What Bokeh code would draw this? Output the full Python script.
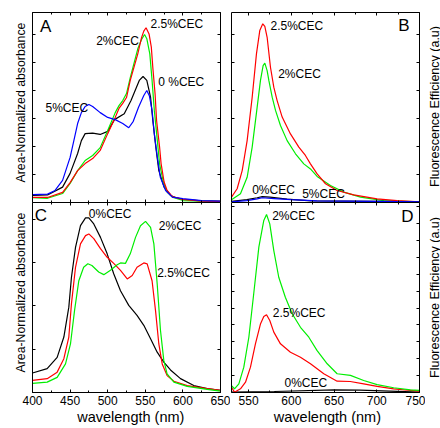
from bokeh.plotting import figure
from bokeh.models import Range1d, LinearAxis, SingleIntervalTicker, Label, Title
from bokeh.layouts import column, row
from bokeh.embed import file_html
from bokeh.resources import INLINE
import math

FONT = "Liberation Sans"

# ---------------- Panel A : absorbance (area-normalized) ----------------
a_black_nm = [400, 420, 440, 450, 460, 465, 470, 480, 490, 500, 509, 522, 531, 538, 542, 547, 552, 557, 560, 564, 568, 575, 584, 590, 600, 625, 650]
a_black_v = [0.025, 0.027, 0.055, 0.104, 0.175, 0.221, 0.246, 0.248, 0.243, 0.254, 0.296, 0.317, 0.364, 0.410, 0.436, 0.450, 0.436, 0.376, 0.293, 0.198, 0.114, 0.055, 0.025, 0.018, 0.011, 0.006, 0.004]
a_blue_nm = [400, 420, 430, 440, 450, 455, 460, 465, 470, 475, 480, 490, 500, 510, 520, 528, 534, 541, 548, 552, 555.5, 559, 562, 566, 570, 577, 586, 600, 625, 650]
a_blue_v = [0.028, 0.030, 0.043, 0.079, 0.161, 0.221, 0.282, 0.321, 0.343, 0.350, 0.343, 0.321, 0.304, 0.296, 0.282, 0.267, 0.290, 0.340, 0.382, 0.400, 0.380, 0.329, 0.245, 0.162, 0.090, 0.043, 0.019, 0.014, 0.007, 0.005]
a_red_nm = [400, 420, 440, 450, 460, 470, 480, 490, 500, 510, 515, 520, 525, 530, 540, 545, 548, 551, 555, 558, 560, 563, 565, 569, 571, 575, 579, 586, 600, 625, 650]
a_red_v = [0.018, 0.018, 0.036, 0.071, 0.114, 0.139, 0.157, 0.186, 0.246, 0.304, 0.336, 0.354, 0.375, 0.436, 0.531, 0.589, 0.612, 0.624, 0.602, 0.555, 0.482, 0.388, 0.293, 0.198, 0.139, 0.073, 0.043, 0.021, 0.011, 0.005, 0.004]
a_green_nm = [400, 420, 440, 450, 460, 470, 480, 490, 500, 510, 515, 520, 525, 530, 540, 545, 549, 552, 556, 559, 562, 566, 569, 574, 579, 586, 600, 625, 650]
a_green_v = [0.017, 0.015, 0.032, 0.068, 0.114, 0.150, 0.168, 0.196, 0.257, 0.321, 0.346, 0.364, 0.389, 0.446, 0.549, 0.582, 0.600, 0.585, 0.531, 0.436, 0.329, 0.221, 0.138, 0.073, 0.037, 0.019, 0.007, 0.005, 0.004]

# ---------------- Panel B : fluorescence ----------------
b_red_nm = [530, 536.6, 542.5, 548.3, 554.2, 559.2, 563.1, 566.6, 569, 571.7, 575.6, 579.5, 583.4, 589.3, 599, 608.8, 616.5, 622.4, 630.2, 640, 653.6, 673, 700.4, 723.8, 750]
b_red_v = [0.019, 0.049, 0.114, 0.221, 0.376, 0.531, 0.614, 0.638, 0.629, 0.590, 0.483, 0.412, 0.364, 0.305, 0.245, 0.198, 0.168, 0.138, 0.102, 0.067, 0.043, 0.027, 0.013, 0.007, 0.002]
b_green_nm = [530, 540.5, 548.3, 554.2, 560, 563.9, 567, 569, 571.7, 573.7, 577.6, 581.5, 587.3, 595.1, 604.9, 614.6, 622.4, 630.2, 645.8, 661.4, 681, 708.2, 750]
b_green_v = [0.010, 0.031, 0.090, 0.198, 0.340, 0.436, 0.489, 0.498, 0.471, 0.436, 0.376, 0.329, 0.275, 0.221, 0.174, 0.138, 0.120, 0.093, 0.061, 0.037, 0.019, 0.007, 0.002]
b_black_nm = [530, 548, 560, 566, 575, 595, 623, 700, 750]
b_black_v = [0.004, 0.010, 0.017, 0.021, 0.019, 0.012, 0.006, 0.004, 0.002]
b_blue_nm = [530, 548, 560, 566, 580, 600, 630, 700, 750]
b_blue_v = [0.002, 0.007, 0.013, 0.017, 0.014, 0.010, 0.006, 0.004, 0.002]

# ---------------- Panel C : absorbance ----------------
c_black_nm = [400, 419.5, 432.8, 441.7, 448.3, 451.8, 457.2, 463.8, 470.5, 474.9, 481.5, 490.4, 499.3, 508, 517, 528, 539, 548, 557, 565.8, 574.6, 583.5, 596.8, 614.5, 632.3, 650]
c_black_v = [0.045, 0.055, 0.081, 0.128, 0.197, 0.266, 0.335, 0.385, 0.403, 0.403, 0.389, 0.358, 0.320, 0.274, 0.235, 0.201, 0.178, 0.155, 0.124, 0.093, 0.070, 0.052, 0.032, 0.016, 0.009, 0.005]
c_red_nm = [400, 419.5, 432.8, 441.7, 448.3, 451.8, 457.2, 463.8, 470.5, 474.9, 481.5, 490.4, 499.3, 508, 517, 526, 532.6, 539, 548, 552.5, 559, 563.6, 568, 572.5, 579, 588, 605.7, 632.3, 650]
c_red_v = [0.028, 0.032, 0.047, 0.078, 0.128, 0.205, 0.289, 0.343, 0.362, 0.366, 0.355, 0.332, 0.312, 0.298, 0.282, 0.262, 0.270, 0.289, 0.299, 0.297, 0.258, 0.189, 0.112, 0.066, 0.039, 0.026, 0.016, 0.009, 0.005]
c_green_nm = [400, 419.5, 432.8, 443.9, 450.5, 455.9, 461.6, 468, 473.6, 479, 488, 494.8, 503.7, 512.6, 517, 523.6, 530, 537, 543.6, 550.3, 557, 561.4, 565.8, 570.2, 574.6, 579, 588, 605.7, 632.3, 650]
c_green_v = [0.021, 0.024, 0.035, 0.066, 0.112, 0.189, 0.258, 0.289, 0.297, 0.293, 0.278, 0.272, 0.282, 0.295, 0.299, 0.298, 0.320, 0.358, 0.385, 0.395, 0.381, 0.343, 0.251, 0.143, 0.074, 0.043, 0.024, 0.014, 0.007, 0.003]

# ---------------- Panel D : fluorescence ----------------
d_green_nm = [530, 533.5, 538.6, 544.4, 550.3, 556, 562, 567.8, 571, 574.8, 579.5, 585.3, 593, 601, 610.7, 620.5, 630, 642, 653.6, 669.2, 684.7, 700.4, 719.8, 739.4, 750]
d_green_v = [0.041, 0.022, 0.051, 0.150, 0.327, 0.584, 0.860, 1.018, 1.053, 0.998, 0.840, 0.682, 0.564, 0.466, 0.386, 0.327, 0.249, 0.170, 0.111, 0.101, 0.071, 0.047, 0.028, 0.016, 0.012]
d_red_nm = [530, 533.5, 540.5, 546.4, 552.2, 558, 564, 567.8, 571, 574.8, 579.5, 587.3, 599, 610.7, 622.4, 638, 653.6, 669, 684.7, 700.4, 719.8, 739.4, 750]
d_red_v = [0.031, 0.002, 0.022, 0.061, 0.150, 0.288, 0.407, 0.450, 0.460, 0.426, 0.357, 0.288, 0.238, 0.209, 0.170, 0.111, 0.067, 0.065, 0.051, 0.036, 0.022, 0.012, 0.008]
d_black_nm = [530, 580, 650, 680, 750]
d_black_v = [0.002, 0.006, 0.015, 0.014, 0.002]

x_abs_range = (400, 650)
x_fl_range = (530, 750)

BLACK, RED, GREEN, BLUE = "#000000", "#ff0000", "#00ee00", "#0000ff"
LW = 1.2

Y_ABS = "Area-Normalized absorbance"
Y_FL = "Fluorescence Efficiency (a.u)"
X_LAB = "wavelength (nm)"


def style_axis(ax, ticker, labels):
    ax.ticker = ticker
    ax.major_tick_in = 3
    ax.major_tick_out = 0
    ax.minor_tick_in = 2
    ax.minor_tick_out = 0
    ax.axis_line_color = "black"
    ax.axis_line_width = 1
    ax.major_tick_line_color = "black"
    ax.minor_tick_line_color = "black"
    if labels:
        ax.major_label_text_font = FONT
        ax.major_label_text_font_size = "12px"
        ax.major_label_text_color = "black"
        ax.major_label_standoff = 3
    else:
        ax.major_label_text_color = None
        ax.major_label_text_font_size = "0px"
        ax.major_label_standoff = 0


def make_panel(width, height, xr, yr, borders, ytick, xlabels):
    p = figure(width=width, height=height,
               x_range=Range1d(*xr), y_range=Range1d(*yr),
               output_backend="svg", toolbar_location=None, tools="",
               x_axis_location=None, y_axis_location=None,
               min_border_left=borders[0], min_border_right=borders[1],
               min_border_top=borders[2], min_border_bottom=borders[3])
    p.outline_line_color = None
    p.background_fill_color = "white"
    p.border_fill_color = "white"
    for g in p.grid:
        g.visible = False
    xt = SingleIntervalTicker(interval=50, num_minor_ticks=2)
    yt = SingleIntervalTicker(interval=ytick, num_minor_ticks=0)
    bx = LinearAxis()
    style_axis(bx, xt, xlabels)
    tx = LinearAxis()
    style_axis(tx, xt, False)
    ly = LinearAxis()
    style_axis(ly, yt, False)
    ry = LinearAxis()
    style_axis(ry, yt, False)
    p.add_layout(bx, "below")
    p.add_layout(tx, "above")
    p.add_layout(ly, "left")
    p.add_layout(ry, "right")
    return p


def text(p, x, y, s, size="12px", angle=0.0, align="left"):
    p.add_layout(Label(x=x, y=y, text=s, text_font=FONT, text_font_size=size,
                       text_color="black", text_baseline="middle",
                       text_align=align, angle=angle))


def left_title(p, s, offset):
    p.add_layout(Title(text=s, align="left", offset=offset, standoff=7,
                       vertical_align="middle", text_font=FONT,
                       text_font_size="12.3px", text_font_style="normal",
                       text_color="black"), "left")


def bottom_title(p, s, offset):
    p.add_layout(Title(text=s, align="left", offset=offset, standoff=0,
                       vertical_align="middle", text_font=FONT,
                       text_font_size="14.5px", text_font_style="normal",
                       text_color="black"), "below")


# geometry: frames A/C x 32..220, B/D x 231..419; rows y 12..202 and 202..392
pA = make_panel(230, 202, x_abs_range, (0, 0.6786), (32, 10, 12, 0), 0.1, False)
pB = make_panel(195, 202, x_fl_range, (0, 0.6786), (1, 6, 12, 0), 0.1, False)
pC = make_panel(230, 226, x_abs_range, (0, 0.4385), (32, 10, 0, 36), 0.1, True)
pD = make_panel(195, 226, x_fl_range, (0, 1.1243), (1, 6, 0, 36), 0.1, True)

# narrow strip at the right carrying the fluorescence axis titles
pR = figure(width=15, height=428, x_range=Range1d(0, 1), y_range=Range1d(0, 428),
            output_backend="svg", toolbar_location=None, tools="",
            x_axis_location=None, y_axis_location=None,
            min_border_left=0, min_border_right=0, min_border_top=0, min_border_bottom=0)
pR.outline_line_color = None
pR.border_fill_color = "white"
for g in pR.grid:
    g.visible = False

# Panel A
pA.line(a_black_nm, a_black_v, line_color=BLACK, line_width=LW)
pA.line(a_green_nm, a_green_v, line_color=GREEN, line_width=LW)
pA.line(a_red_nm, a_red_v, line_color=RED, line_width=LW)
pA.line(a_blue_nm, a_blue_v, line_color=BLUE, line_width=LW)
text(pA, 556.9, 0.636, "2.5%CEC")
text(pA, 484.7, 0.576, "2%CEC")
text(pA, 567.2, 0.430, "0 %CEC")
text(pA, 417.3, 0.336, "5%CEC")
text(pA, 410.0, 0.629, "A", size="17px")
left_title(pA, Y_ABS, 20)

# Panel B
pB.line(b_green_nm, b_green_v, line_color=GREEN, line_width=LW)
pB.line(b_red_nm, b_red_v, line_color=RED, line_width=LW)
pB.line(b_black_nm, b_black_v, line_color=BLACK, line_width=LW)
pB.line(b_blue_nm, b_blue_v, line_color=BLUE, line_width=LW)
text(pB, 575.6, 0.630, "2.5%CEC")
text(pB, 584.6, 0.460, "2%CEC")
text(pB, 554.2, 0.043, "0%CEC")
text(pB, 612.7, 0.029, "5%CEC")
text(pB, 725.0, 0.632, "B", size="17px")

# Panel C
pC.line(c_black_nm, c_black_v, line_color=BLACK, line_width=LW)
pC.line(c_red_nm, c_red_v, line_color=RED, line_width=LW)
pC.line(c_green_nm, c_green_v, line_color=GREEN, line_width=LW)
text(pC, 474.9, 0.413, "0%CEC")
text(pC, 568.0, 0.385, "2%CEC")
text(pC, 565.8, 0.275, "2.5%CEC")
text(pC, 403.0, 0.408, "C", size="17px")
left_title(pC, Y_ABS, 20)
bottom_title(pC, X_LAB, 44.7)

# Panel D
pD.line(d_black_nm, d_black_v, line_color=BLACK, line_width=LW)
pD.line(d_red_nm, d_red_v, line_color=RED, line_width=LW)
pD.line(d_green_nm, d_green_v, line_color=GREEN, line_width=LW)
text(pD, 577.6, 1.043, "2%CEC")
text(pD, 578.3, 0.472, "2.5%CEC")
text(pD, 592.0, 0.055, "0%CEC")
text(pD, 728.5, 1.043, "D", size="17px")
bottom_title(pD, X_LAB, 42.3)

# right-hand axis titles (strip coordinates: x in 0..1, y in pixels from the bottom)
text(pR, 0.6, 322, Y_FL, size="12.5px", angle=math.pi / 2, align="center")
text(pR, 0.6, 131, Y_FL, size="12.5px", angle=math.pi / 2, align="center")

layout = row(column(row(pA, pB), row(pC, pD)), pR)
open("out.html", "w").write(file_html(layout, INLINE))
